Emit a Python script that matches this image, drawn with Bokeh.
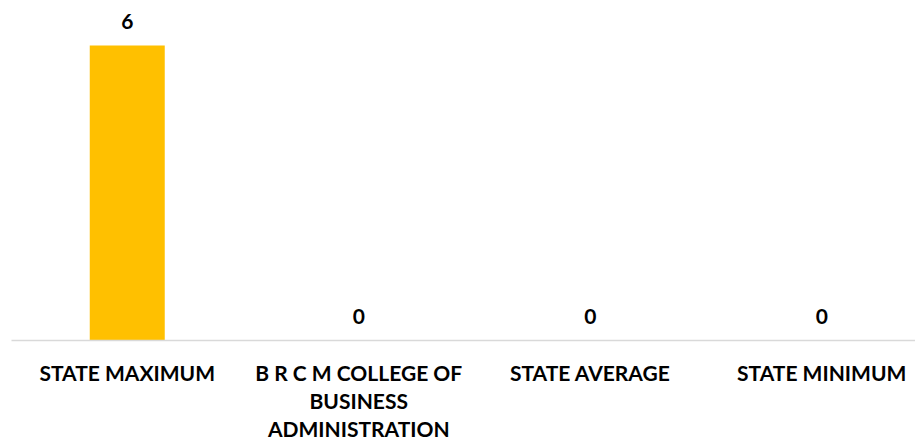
from bokeh.plotting import figure
from bokeh.models import Range1d, ColumnDataSource, FixedTicker
from bokeh.core.properties import value
from bokeh.embed import file_html
from bokeh.resources import INLINE

categories = ["STATE MAXIMUM", "B R C M COLLEGE OF\nBUSINESS\nADMINISTRATION", "STATE AVERAGE", "STATE MINIMUM"]
values = [6, 0, 0, 0]
value_labels = ["6", "0", "0", "0"]

xpos = [i + 0.5 for i in range(len(categories))]
src = ColumnDataSource(dict(x=xpos, val=values, lab=value_labels))

p = figure(width=915, height=444, output_backend="svg", toolbar_location=None,
           x_range=Range1d(0, 3.905), y_range=Range1d(0, 6.915))
p.min_border_left = 11
p.min_border_right = 0
p.min_border_top = 0
p.min_border_bottom = 104
p.outline_line_color = None
p.background_fill_color = "white"
p.border_fill_color = "white"
p.xgrid.visible = False
p.ygrid.visible = False
p.yaxis.visible = False

p.vbar(x="x", top="val", width=0.324, source=src, fill_color="#FFC000", line_color=None)
p.text(x="x", y="val", text="lab", source=src, text_align="center", text_baseline="middle",
       y_offset=-24, text_font=value("Lato"), text_font_style="bold", text_font_size="21px",
       text_color="#000000")

ax = p.xaxis[0]
ax.ticker = FixedTicker(ticks=xpos)
ax.major_label_overrides = {x: c for x, c in zip(xpos, categories)}
ax.axis_line_color = "#d9d9d9"
ax.axis_line_width = 1.5
ax.major_tick_line_color = None
ax.minor_tick_line_color = None
ax.major_label_text_font = "Lato"
ax.major_label_text_font_style = "bold"
ax.major_label_text_font_size = "21px"
ax.major_label_text_color = "#000000"
ax.major_label_standoff = 13
ax.major_label_text_line_height = 1.13
ax.major_label_orientation = "horizontal"

open("out.html", "w").write(file_html(p, INLINE))
